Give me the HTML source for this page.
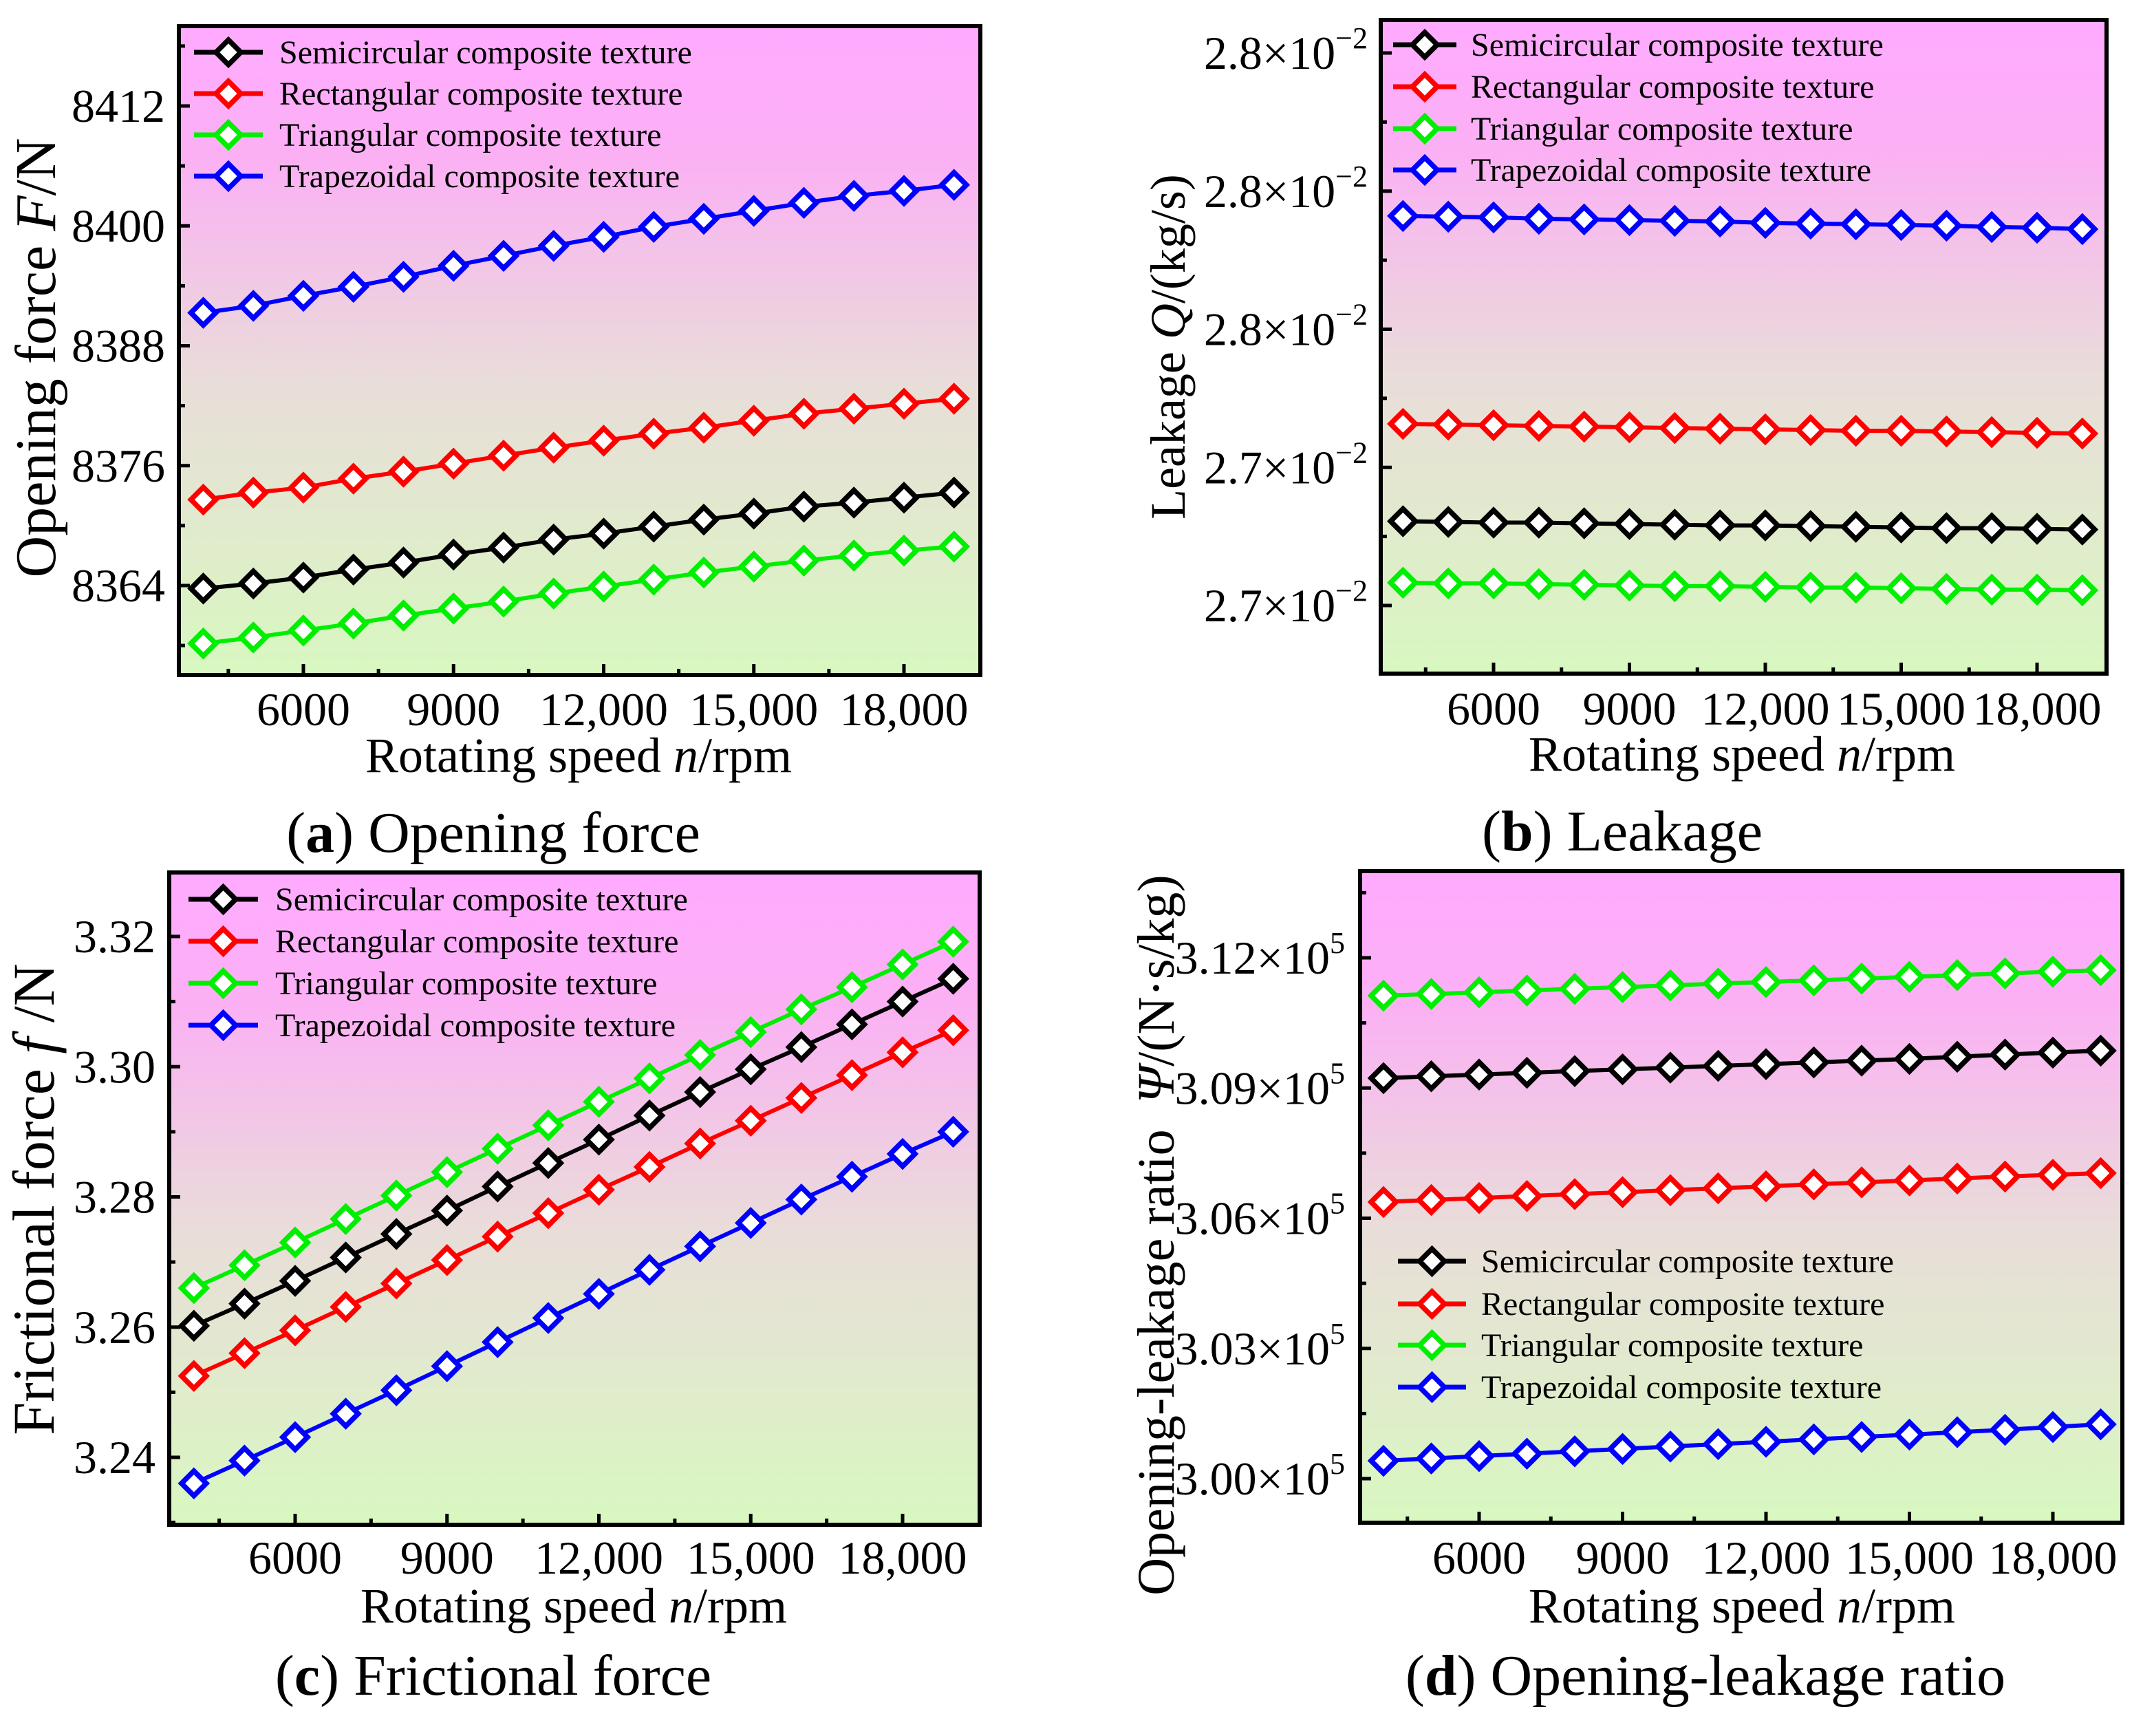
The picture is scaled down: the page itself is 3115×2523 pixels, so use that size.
<!DOCTYPE html>
<html><head><meta charset="utf-8"><style>
html,body{margin:0;padding:0;background:#fff;}
svg{display:block;font-family:"Liberation Serif","DejaVu Serif",serif;}
</style></head><body>
<svg id="fig" xmlns="http://www.w3.org/2000/svg" width="3115" height="2523" viewBox="0 0 3115 2523">
<defs>
<linearGradient id="bg" x1="0" y1="0" x2="0" y2="1">
<stop offset="0" stop-color="#ffaaff"/><stop offset="0.2" stop-color="#fbb0f4"/><stop offset="0.55" stop-color="#e9ddd9"/><stop offset="1" stop-color="#d8f8c0"/>
</linearGradient>
</defs>
</svg>
<script>
const speeds = [4000,5000,6000,7000,8000,9000,10000,11000,12000,13000,14000,15000,16000,17000,18000,19000];
const seriesNames = ["Semicircular composite texture","Rectangular composite texture","Triangular composite texture","Trapezoidal composite texture"];
const xTickValues = [6000,9000,12000,15000,18000];
const xTickLabels = ["6000","9000","12,000","15,000","18,000"];

// (a) Opening force
const aSemi = [8363.7,8364.2,8364.8,8365.6,8366.3,8367.1,8367.8,8368.6,8369.2,8369.9,8370.6,8371.2,8371.9,8372.3,8372.8,8373.3];
const aRect = [8372.6,8373.3,8373.8,8374.7,8375.4,8376.2,8377.0,8377.8,8378.5,8379.2,8379.8,8380.5,8381.2,8381.7,8382.2,8382.7];
const aTri = [8358.2,8358.8,8359.5,8360.2,8361.0,8361.7,8362.4,8363.2,8363.9,8364.6,8365.3,8365.9,8366.5,8367.0,8367.5,8367.9];
const aTrap = [8391.3,8392.0,8393.0,8393.9,8394.9,8396.0,8397.0,8398.0,8398.9,8399.9,8400.7,8401.5,8402.3,8403.0,8403.5,8404.1];
const aYTicks = [8412,8400,8388,8376,8364];
const aYLabels = ["8412","8400","8388","8376","8364"];

// (b) Leakage
const bSemi = [0.027322,0.027321,0.027320,0.027320,0.027319,0.027318,0.027317,0.027316,0.027316,0.027315,0.027314,0.027313,0.027312,0.027312,0.027311,0.027310];
const bRect = [0.027463,0.027462,0.027461,0.027460,0.027459,0.027458,0.027457,0.027456,0.027455,0.027454,0.027453,0.027453,0.027452,0.027451,0.027450,0.027449];
const bTri = [0.027233,0.027232,0.027232,0.027231,0.027230,0.027229,0.027228,0.027228,0.027227,0.027226,0.027226,0.027225,0.027224,0.027223,0.027223,0.027222];
const bTrap = [0.027764,0.027763,0.027762,0.027760,0.027759,0.027758,0.027757,0.027756,0.027754,0.027753,0.027752,0.027751,0.027750,0.027748,0.027747,0.027745];
const bYTicks = [0.0280,0.0278,0.0276,0.0274,0.0272];
const bYLabels = ["2.8","2.8","2.8","2.7","2.7"];

// (c) Frictional force
const cSemi = [3.2602,3.2636,3.2671,3.2707,3.2743,3.2779,3.2816,3.2852,3.2888,3.2925,3.2961,3.2996,3.3030,3.3065,3.3100,3.3135];
const cRect = [3.2525,3.2560,3.2595,3.2631,3.2667,3.2703,3.2739,3.2775,3.2811,3.2846,3.2882,3.2917,3.2952,3.2987,3.3022,3.3056];
const cTri = [3.2660,3.2695,3.2730,3.2766,3.2802,3.2838,3.2874,3.2910,3.2946,3.2982,3.3018,3.3053,3.3088,3.3122,3.3157,3.3192];
const cTrap = [3.2360,3.2395,3.2431,3.2467,3.2503,3.2540,3.2577,3.2614,3.2651,3.2688,3.2724,3.2760,3.2796,3.2831,3.2866,3.2900];
const cYTicks = [3.32,3.30,3.28,3.26,3.24];
const cYLabels = ["3.32","3.30","3.28","3.26","3.24"];

// (d) Opening-leakage ratio
const dSemi = [309227,309270,309310,309350,309390,309430,309470,309510,309550,309590,309630,309670,309720,309770,309815,309861];
const dRect = [306374,306420,306465,306510,306555,306600,306645,306690,306735,306780,306825,306870,306915,306960,307000,307040];
const dTri = [311128,311165,311205,311245,311285,311325,311365,311405,311440,311480,311520,311560,311600,311640,311680,311715];
const dTrap = [300412,300465,300520,300575,300630,300685,300740,300795,300850,300905,300960,301015,301070,301125,301190,301252];
const dYTicks = [312000,309000,306000,303000,300000];
const dYLabels = ["3.12","3.09","3.06","3.03","3.00"];

const colors = ["#000000","#ff0000","#00ee00","#0000ff"];
const NS = "http://www.w3.org/2000/svg";
const svg = document.getElementById('fig');
function mk(tag, attrs, parent){
  const e = document.createElementNS(NS, tag);
  for (const k in attrs) e.setAttribute(k, attrs[k]);
  (parent||svg).appendChild(e);
  return e;
}
function linmap(v0,p0,v1,p1){ return v => p0 + (v-v0)*(p1-p0)/(v1-v0); }

function drawPanel(P){
  const g = mk('g',{});
  
  
  const xs = linmap(P.xv0,P.xp0,P.xv1,P.xp1);
  const ys = linmap(P.yv0,P.yp0,P.yv1,P.yp1);
  const bg = mk('rect',{x:P.L,y:P.T,width:P.R-P.L,height:P.B-P.T,fill:'url(#bg)'},g);
  
  
  for (let v=4500; v<=19000; v+=1500){
    const major = xTickValues.indexOf(v) >= 0;
    const px = xs(v);
    const t = mk('line',{x1:px,x2:px,y1:P.B,y2:P.B-(major?16:9),stroke:'#000','stroke-width':5},g);
    
    
  }
  xTickValues.forEach((v,i)=>{
    const t = mk('text',{x:xs(v),y:P.xlabY,'font-size':68,'text-anchor':'middle'},g);
    t.textContent = xTickLabels[i];
    
    
  });
  const step = P.yTicks[0]-P.yTicks[1];
  for (let k=-2; k<P.yTicks.length*2+2; k++){
    const v = P.yTicks[0] - k*step/2;
    const py = ys(v);
    if (py <= P.T+3 || py >= P.B-3) continue;
    const major = k%2===0 && k>=0 && k/2 < P.yTicks.length;
    const t = mk('line',{x1:P.L,x2:P.L+(major?16:9),y1:py,y2:py,stroke:'#000','stroke-width':5},g);
    
    
  }
  P.yTicks.forEach((v,i)=>{
    const t = mk('text',{x:P.ylabX,y:ys(v)+23,'font-size':68,'text-anchor':'end'},g);
    if (P.exp){
      t.textContent = P.yLabels[i] + '\u00d710';
      const s = mk('tspan',{dy:-30,'font-size':44},t);
      s.textContent = P.exp;
    } else t.textContent = P.yLabels[i];
    
    
  });
  P.series.forEach((arr,si)=>{
    const sg = mk('g',{},g);
    
    
    const pts = arr.map((v,i)=>xs(speeds[i]).toFixed(1)+','+ys(v).toFixed(1)).join(' ');
    const pl = mk('polyline',{points:pts,fill:'none',stroke:colors[si],'stroke-width':6},sg);
    
    
    arr.forEach((v,i)=>{
      const cx = xs(speeds[i]), cy = ys(v), h = 18;
      const m = mk('polygon',{points:`${cx},${cy-h} ${cx+h},${cy} ${cx},${cy+h} ${cx-h},${cy}`,fill:'#fff',stroke:colors[si],'stroke-width':7.5},sg);
      
      
    });
  });
  const lg = mk('g',{},g);
  
  
  P.legY.forEach((ly,si)=>{
    const e = mk('g',{},lg);
    
    
    mk('line',{x1:P.legX0,x2:P.legX1,y1:ly,y2:ly,stroke:colors[si],'stroke-width':7},e);
    const cx=(P.legX0+P.legX1)/2, h=18;
    mk('polygon',{points:`${cx},${ly-h} ${cx+h},${ly} ${cx},${ly+h} ${cx-h},${ly}`,fill:'#fff',stroke:colors[si],'stroke-width':7.5},e);
    const t = mk('text',{x:P.legTX,y:ly+16,'font-size':48},e);
    t.textContent = seriesNames[si];
  });
  const fr = mk('rect',{x:P.L,y:P.T,width:P.R-P.L,height:P.B-P.T,fill:'none',stroke:'#000','stroke-width':6},g);
  
  
  const xt = mk('text',{x:P.xtX,y:P.xtY,'font-size':72,'text-anchor':'middle'},g);
  xt.innerHTML = 'Rotating speed <tspan font-style="italic">n</tspan>/rpm';
  
  
  const yt = mk('text',{x:0,y:0,'font-size':P.ytSize,'text-anchor':'middle',transform:`translate(${P.ytX},${P.ytY}) rotate(-90)`},g);
  yt.innerHTML = P.ytitle;
  
  
  const cap = mk('text',{x:P.capX,y:P.capY,'font-size':84,'text-anchor':'middle'},g);
  cap.innerHTML = P.caption;
  
  
}

drawPanel({id:'panel-a-opening-force',L:260,R:1425,T:38,B:981,
  xv0:6000,xp0:441,xv1:18000,xp1:1314, yv0:8412,yp0:154,yv1:8364,yp1:851,
  yTicks:aYTicks,yLabels:aYLabels,ylabX:240,xlabY:1054,
  series:[aSemi,aRect,aTri,aTrap],legY:[76,136,196,256],legX0:282,legX1:382,legTX:406,
  xtX:841,xtY:1122,ytX:80,ytY:520,ytSize:84,ytitle:'Opening force <tspan font-style="italic">F</tspan>/N',
  capX:717,capY:1238,caption:'(<tspan font-weight="bold">a</tspan>) Opening force'});

drawPanel({id:'panel-b-leakage',L:2007,R:3062,T:29,B:979,
  xv0:6000,xp0:2171,xv1:18000,xp1:2961, yv0:0.0280,yp0:77,yv1:0.0272,yp1:880,
  yTicks:bYTicks,yLabels:bYLabels,exp:'\u22122',ylabX:1988,xlabY:1053,
  series:[bSemi,bRect,bTri,bTrap],legY:[65,126,187,247],legX0:2025,legX1:2117,legTX:2138,
  xtX:2532,xtY:1120,ytX:1722,ytY:504,ytSize:72,ytitle:'Leakage <tspan font-style="italic">Q</tspan>/(kg/s)',
  capX:2358,capY:1236,caption:'(<tspan font-weight="bold">b</tspan>) Leakage'});

drawPanel({id:'panel-c-frictional-force',L:246,R:1424,T:1268,B:2216,
  xv0:6000,xp0:429,xv1:18000,xp1:1312, yv0:3.32,yp0:1361,yv1:3.24,yp1:2118,
  yTicks:cYTicks,yLabels:cYLabels,ylabX:226,xlabY:2287,
  series:[cSemi,cRect,cTri,cTrap],legY:[1307,1368,1429,1490],legX0:274,legX1:375,legTX:400,
  xtX:834,xtY:2358,ytX:78,ytY:1743,ytSize:86,ytitle:'Frictional force <tspan font-style="italic">f</tspan> /N',
  capX:717,capY:2463,caption:'(<tspan font-weight="bold">c</tspan>) Frictional force'});

drawPanel({id:'panel-d-opening-leakage-ratio',L:1977,R:3085,T:1266,B:2213,
  xv0:6000,xp0:2150,xv1:18000,xp1:2984, yv0:312000,yp0:1392,yv1:300000,yp1:2149,
  yTicks:dYTicks,yLabels:dYLabels,exp:'5',ylabX:1955,xlabY:2287,
  series:[dSemi,dRect,dTri,dTrap],legY:[1833,1895,1955,2016],legX0:2032,legX1:2131,legTX:2153,
  xtX:2532,xtY:2358,ytX:1706,ytY:1795,ytSize:76,ytitle:'Opening-leakage ratio&#160;&#160;<tspan font-style="italic">\u03a8</tspan>/(N\u00b7s/kg)',
  capX:2479,capY:2463,caption:'(<tspan font-weight="bold">d</tspan>) Opening-leakage ratio'});
</script>
</body></html>
